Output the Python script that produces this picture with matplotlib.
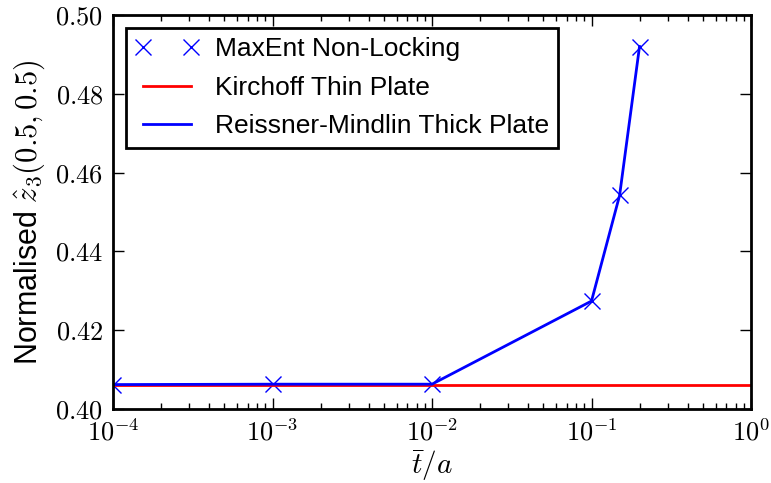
import matplotlib
matplotlib.use("Agg")
import matplotlib.pyplot as plt
from matplotlib.ticker import FuncFormatter, LogLocator
import numpy as np

plt.rcParams['mathtext.fontset'] = 'cm'
plt.rcParams['font.family'] = ['Liberation Sans', 'DejaVu Sans']

t_over_a = [1e-4, 1e-3, 1e-2, 1e-1, 0.15, 0.2]
maxent = [0.4062, 0.4063, 0.4063, 0.4274, 0.4542, 0.4920]
kirchoff_x = [1e-4, 1.0]
kirchoff_y = [0.4062, 0.4062]
reissner = [0.4062, 0.4063, 0.4063, 0.4274, 0.4542, 0.4920]
yticks = [0.40, 0.42, 0.44, 0.46, 0.48, 0.50]

fig = plt.figure(figsize=(7.71, 4.83), dpi=100)
ax = fig.add_axes([113/771, 1-409/483, (751-113)/771, (409-15)/483])

ax.plot(t_over_a, maxent, linestyle='none', marker='x', color='blue',
        markersize=12, markeredgewidth=1.0, label='MaxEnt Non-Locking')
ax.plot(kirchoff_x, kirchoff_y, color='red', lw=2, label='Kirchoff Thin Plate')
ax.plot(t_over_a, reissner, color='blue', lw=2, label='Reissner-Mindlin Thick Plate')

ax.set_xscale('log')
ax.set_xlim(1e-4, 1)
ax.set_ylim(0.40, 0.50)
ax.set_yticks(yticks)
ax.yaxis.set_major_formatter(FuncFormatter(lambda v, p: r'$%.2f$' % v))
ax.xaxis.set_major_locator(LogLocator(base=10, numticks=10))
ax.xaxis.set_minor_locator(LogLocator(base=10, subs=np.arange(2, 10), numticks=20))
ax.xaxis.set_major_formatter(FuncFormatter(lambda v, p: r'$10^{%d}$' % round(np.log10(v))))

ax.tick_params(which='both', direction='in', top=True, right=True, labelsize=19, pad=7)
ax.tick_params(which='major', length=8, width=1)
ax.tick_params(which='minor', length=4, width=1)
for s in ax.spines.values():
    s.set_linewidth(2)

ax.set_xlabel(r'$\bar{t}/a$', fontsize=21, labelpad=2)
ax.set_ylabel(r'Normalised $\hat{z}_3(0.5,0.5)$', fontsize=22, labelpad=6)

leg = ax.legend(loc='upper left', numpoints=2, fontsize=19, fancybox=False,
                framealpha=1, edgecolor='black', borderaxespad=0.5,
                handlelength=2.4, labelspacing=0.55, borderpad=0.35, handletextpad=0.6)
leg.get_frame().set_linewidth(2)

fig.savefig('out.png', dpi=100)
